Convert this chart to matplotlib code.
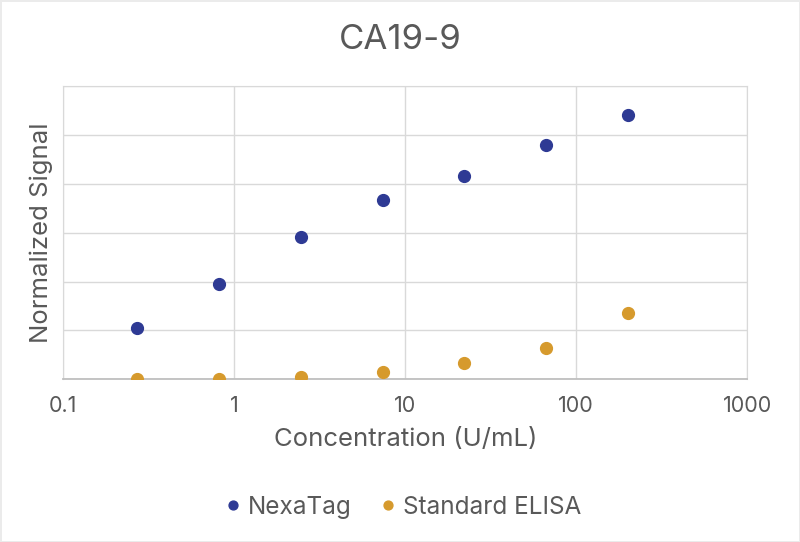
import matplotlib.pyplot as plt
from matplotlib.ticker import FixedLocator, FixedFormatter, NullLocator

# Concentrations (U/mL), 3-fold dilution series
concentration = [0.27, 0.82, 2.47, 7.4, 22.2, 66.7, 200]
nexatag = [0.209, 0.391, 0.582, 0.732, 0.832, 0.957, 1.083]
elisa = [0.0, 0.002, 0.009, 0.029, 0.065, 0.129, 0.272]

x_ticks = [0.1, 1, 10, 100, 1000]
x_tick_labels = ['0.1', '1', '10', '100', '1000']
y_grid = [0, 0.2, 0.4, 0.6, 0.8, 1.0, 1.2]

text_color = '#595959'
plt.rcParams['font.family'] = ['Inter', 'DejaVu Sans']

fig = plt.figure(figsize=(8, 5.42), dpi=100)
fig.patch.set_edgecolor('#EBEBEB')
fig.patch.set_linewidth(2)
ax = fig.add_axes([0.0788, 0.3002, 0.8554, 0.5411])

ax.plot(concentration, nexatag, 'o', color='#2E3A94', markersize=8.5, label='NexaTag', zorder=3)
ax.plot(concentration, elisa, 'o', color='#D69A2D', markersize=8.5, label='Standard ELISA', zorder=3)

ax.set_xscale('log')
ax.set_xlim(0.1, 1000)
ax.set_ylim(0, 1.2)
ax.xaxis.set_major_locator(FixedLocator(x_ticks))
ax.xaxis.set_major_formatter(FixedFormatter(x_tick_labels))
ax.xaxis.set_minor_locator(NullLocator())
ax.yaxis.set_major_locator(FixedLocator(y_grid))
ax.set_yticklabels([])
ax.tick_params(axis='x', length=0, labelsize=15.5, colors=text_color, pad=12)
ax.tick_params(axis='y', length=0, pad=0)
ax.grid(True, color='#D9D9D9', linewidth=1)
ax.set_axisbelow(True)
for side in ['left', 'top', 'right']:
    ax.spines[side].set_color('#D9D9D9')
ax.spines['bottom'].set_color('#BFBFBF')
ax.spines['bottom'].set_linewidth(1.3)

ax.set_xlabel('Concentration (U/mL)', fontsize=18.5, color=text_color, labelpad=9)
ax.set_ylabel('Normalized Signal', fontsize=18.5, color=text_color, labelpad=7)
fig.suptitle('CA19-9', fontsize=25, color=text_color, y=0.955)

fig.legend(loc='center', bbox_to_anchor=(0.50, 0.064), ncol=2, frameon=False,
           fontsize=17.5, labelcolor=text_color, handletextpad=0.0, handlelength=1.2,
           columnspacing=0.9, markerscale=0.75)

fig.savefig('out.png', dpi=100, edgecolor=fig.get_edgecolor())
